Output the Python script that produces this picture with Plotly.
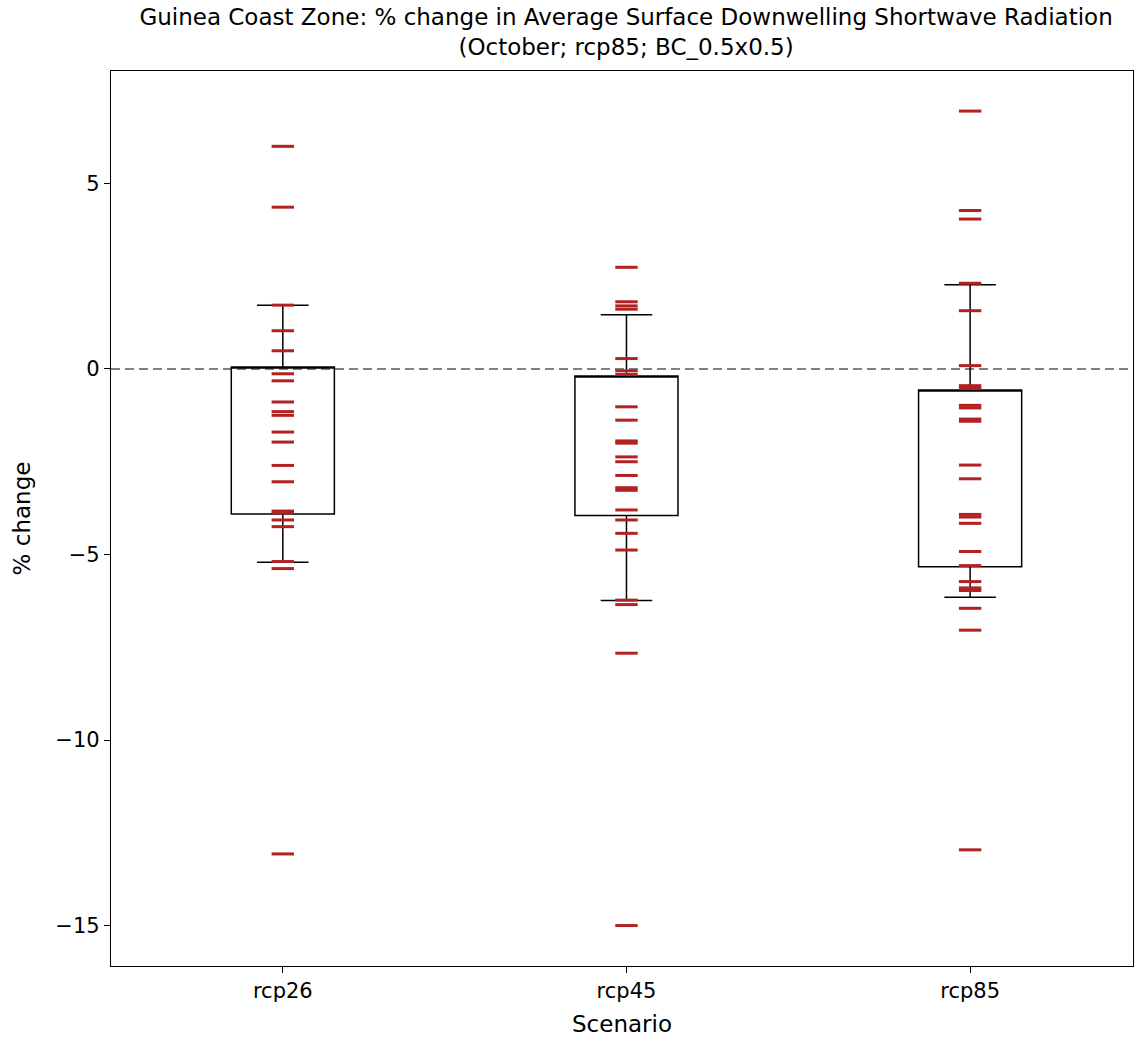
import plotly.graph_objects as go

scenarios = ["rcp26", "rcp45", "rcp85"]
rcp26 = [6.0, 4.36, 1.72, 1.03, 0.49, -0.13, -0.32, -0.89, -1.15, -1.25, -1.70, -1.97,
         -2.60, -3.04, -3.83, -3.88, -4.07, -4.25, -5.19, -5.38, -13.07]
rcp45 = [2.74, 1.81, 1.70, 1.61, 0.28, -0.05, -0.15, -1.02, -1.38, -1.94, -2.00, -2.37,
         -2.50, -2.87, -3.20, -3.27, -3.80, -4.07, -4.43, -4.88, -6.23, -6.35, -7.66, -15.0]
rcp85 = [6.95, 4.27, 4.04, 2.31, 1.57, 0.09, -0.45, -0.52, -0.98, -1.05, -1.35, -1.41,
         -2.59, -2.96, -3.92, -3.99, -4.16, -4.92, -5.30, -5.73, -5.90, -5.97, -6.45, -7.04, -12.96]

# box statistics (as drawn)
q1 = [-3.91, -3.95, -5.33]
q3 = [0.05, -0.19, -0.57]
whisker_low = [-5.21, -6.24, -6.15]
whisker_high = [1.72, 1.46, 2.27]

y_ticks = [-15, -10, -5, 0, 5]

font = "DejaVu Sans, Liberation Sans, sans-serif"
fig = go.Figure()

positions = [1, 2, 3]
for pos, vals in zip(positions, [rcp26, rcp45, rcp85]):
    fig.add_trace(go.Scatter(
        x=[pos] * len(vals), y=vals, mode="markers",
        marker=dict(symbol="line-ew", size=16, color="#b22222",
                    line=dict(color="#b22222", width=3)),
        showlegend=False, hoverinfo="y"))

fig.add_trace(go.Box(
    x=positions, q1=q1, median=q3, q3=q3,
    lowerfence=whisker_low, upperfence=whisker_high,
    width=0.3, whiskerwidth=0.5,
    fillcolor="rgba(0,0,0,0)", line=dict(color="black", width=1.5),
    boxpoints=False, showlegend=False))

fig.add_shape(type="line", xref="paper", x0=0, x1=1, yref="y", y0=0, y1=0,
              line=dict(color="#808080", width=2, dash="9px,5px"), layer="below")

fig.update_layout(
    width=1134, height=1038,
    margin=dict(l=111, r=1, t=71, b=72),
    plot_bgcolor="white", paper_bgcolor="white",
    font=dict(family=font, size=19, color="black"),
    title=dict(text="Guinea Coast Zone: % change in Average Surface Downwelling Shortwave Radiation<br>(October; rcp85; BC_0.5x0.5)",
               x=0.504, xanchor="center", xref="paper", y=1 - 25 / 1038, yanchor="top",
               font=dict(family=font, size=23, color="black")),
    xaxis=dict(range=[0.5, 3.474], tickvals=positions, ticktext=scenarios,
               showgrid=False, zeroline=False, showline=True, linecolor="black", linewidth=1.3,
               mirror=True, ticks="outside", ticklen=6, tickcolor="black",
               tickfont=dict(size=21),
               title=dict(text="Scenario", standoff=13)),
    yaxis=dict(range=[-16.09, 8.03], tickvals=y_ticks,
               showgrid=False, zeroline=False, showline=True, linecolor="black", linewidth=1.3,
               mirror=True, ticks="outside", ticklen=6, tickcolor="black",
               tickfont=dict(size=21),
               title=dict(text="% change", standoff=18)),
)

fig.write_html("out.html", config={"displayModeBar": False},
               post_script="document.body.style.margin='0';document.body.style.overflow='hidden';")
